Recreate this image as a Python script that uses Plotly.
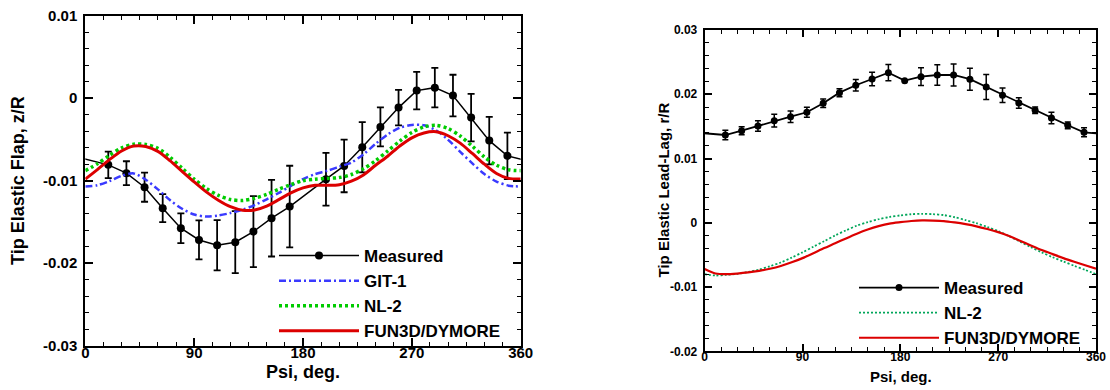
import plotly.graph_objects as go

# ---------------- data: left panel (Tip Elastic Flap, z/R) ----------------
psi_meas_flap = [19, 34, 49, 64, 79, 94, 109, 124, 139, 154, 169, 199, 214, 229, 244,
                 259, 274, 289, 304, 319, 334, 349]
flap_meas = [-0.00808, -0.00909, -0.01079, -0.01333, -0.01576, -0.01718, -0.01782,
             -0.01745, -0.01617, -0.01455, -0.01314, -0.00982, -0.00821, -0.00594,
             -0.00348, -0.00114, 0.00092, 0.00128, 0.00032, -0.00235, -0.00514, -0.00699]
flap_err = [0.00161, 0.00145, 0.00176, 0.00170, 0.00180, 0.00236, 0.00305, 0.00376,
            0.00430, 0.00464, 0.00495, 0.00319, 0.00319, 0.00305, 0.00236, 0.00216,
            0.00227, 0.00239, 0.00252, 0.00288, 0.00287, 0.00282]

psi_model = [0, 10, 20, 30, 40, 50, 60, 70, 80, 90, 100, 110, 120, 130, 140, 150, 160,
             170, 180, 190, 200, 210, 220, 230, 240, 250, 260, 270, 280, 290, 300, 310,
             320, 330, 340, 350, 360]
flap_git1 = [-0.01071, -0.01055, -0.01005, -0.00940, -0.00912, -0.00988, -0.01105,
             -0.01235, -0.01340, -0.01410, -0.01435, -0.01422, -0.01392, -0.01352,
             -0.01295, -0.01225, -0.01148, -0.01062, -0.00980, -0.00920, -0.00880,
             -0.00830, -0.00780, -0.00680, -0.00553, -0.00440, -0.00358, -0.00325,
             -0.00329, -0.00388, -0.00505, -0.00650, -0.00790, -0.00920, -0.01010,
             -0.01060, -0.01070]
flap_nl2 = [-0.00878, -0.00795, -0.00692, -0.00603, -0.00558, -0.00560, -0.00608,
            -0.00715, -0.00848, -0.00981, -0.01093, -0.01178, -0.01228, -0.01240,
            -0.01213, -0.01166, -0.01104, -0.01048, -0.01000, -0.00982, -0.00972,
            -0.00962, -0.00925, -0.00855, -0.00757, -0.00640, -0.00520, -0.00415,
            -0.00348, -0.00328, -0.00368, -0.00458, -0.00582, -0.00712, -0.00812,
            -0.00868, -0.00878]
flap_fun3d = [-0.00980, -0.00865, -0.00745, -0.00640, -0.00580, -0.00585, -0.00645,
              -0.00757, -0.00886, -0.01014, -0.01135, -0.01236, -0.01315, -0.01358,
              -0.01355, -0.01308, -0.01230, -0.01147, -0.01087, -0.01055, -0.01056,
              -0.01048, -0.01005, -0.00930, -0.00813, -0.00703, -0.00580, -0.00480,
              -0.00422, -0.00406, -0.00455, -0.00545, -0.00670, -0.00800, -0.00912,
              -0.00972, -0.00980]

# ---------------- data: right panel (Tip Elastic Lead-Lag, r/R) ----------------
psi_meas_lag = [19, 34, 49, 64, 79, 94, 109, 124, 139, 154, 169, 184, 199, 214, 229,
                244, 259, 274, 289, 304, 319, 334, 349]
lag_meas = [0.01366, 0.01433, 0.01506, 0.01589, 0.01651, 0.01720, 0.01860, 0.02025,
            0.02140, 0.02238, 0.02336, 0.02212, 0.02274, 0.02300, 0.02300, 0.02234,
            0.02114, 0.01984, 0.01864, 0.01751, 0.01631, 0.01517, 0.01408]
lag_err = [0.00075, 0.00062, 0.00080, 0.00100, 0.00090, 0.00078, 0.00065, 0.00062,
           0.00090, 0.00106, 0.00127, 0.00000, 0.00137, 0.00158, 0.00170, 0.00170,
           0.00195, 0.00112, 0.00080, 0.00052, 0.00088, 0.00052, 0.00070]
lag_nl2 = [-0.00800, -0.00820, -0.00810, -0.00795, -0.00765, -0.00728, -0.00676,
           -0.00618, -0.00542, -0.00460, -0.00372, -0.00286, -0.00197, -0.00118,
           -0.00045, 0.00010, 0.00055, 0.00090, 0.00115, 0.00133, 0.00140, 0.00134,
           0.00120, 0.00086, 0.00043, -0.00007, -0.00066, -0.00130, -0.00208,
           -0.00293, -0.00378, -0.00460, -0.00535, -0.00603, -0.00670, -0.00733,
           -0.00800]
lag_fun3d = [-0.00720, -0.00790, -0.00800, -0.00790, -0.00773, -0.00748, -0.00715,
             -0.00672, -0.00615, -0.00550, -0.00473, -0.00394, -0.00320, -0.00243,
             -0.00170, -0.00105, -0.00052, -0.00012, 0.00010, 0.00028, 0.00037,
             0.00035, 0.00027, 0.00005, -0.00022, -0.00055, -0.00097, -0.00145,
             -0.00205, -0.00278, -0.00352, -0.00424, -0.00488, -0.00550, -0.00607,
             -0.00662, -0.00715]

x_tickvals = [0, 90, 180, 270, 360]
x_ticktext = ["0", "90", "180", "270", "360"]
flap_tickvals = [-0.03, -0.02, -0.01, 0, 0.01]
flap_ticktext = ["-0.03", "-0.02", "-0.01", "0", "0.01"]
lag_tickvals = [-0.02, -0.01, 0, 0.01, 0.02, 0.03]
lag_ticktext = ["-0.02", "-0.01", "0", "0.01", "0.02", "0.03"]

W, H = 1110, 390
FONT = "Liberation Sans, Arial, Helvetica, sans-serif"
RED = "#dc0000"
BLUE = "#3a3aff"
GREEN = "#00cc00"
TEAL = "#00a65a"


def wrap(psi, vals):
    """Periodic continuation so the measured line runs to both borders."""
    return ([psi[-1] - 360] + psi + [psi[0] + 360], [vals[-1]] + vals + [vals[0]])


fig = go.Figure()

# left panel
fx, fy = wrap(psi_meas_flap, flap_meas)
_, fe = wrap(psi_meas_flap, flap_err)
fig.add_trace(go.Scatter(x=fx, y=fy, mode="lines+markers", name="Measured",
                         line=dict(color="black", width=1.5),
                         marker=dict(color="black", size=8),
                         error_y=dict(type="data", array=fe, color="black",
                                      thickness=1.8, width=3.5),
                         xaxis="x", yaxis="y", legend="legend"))
fig.add_trace(go.Scatter(x=psi_model, y=flap_git1, mode="lines", name="GIT-1",
                         line=dict(color=BLUE, width=2.5, dash="7px,3px,2px,3px",
                                   shape="spline", smoothing=0.8),
                         xaxis="x", yaxis="y", legend="legend"))
fig.add_trace(go.Scatter(x=psi_model, y=flap_nl2, mode="lines", name="NL-2",
                         line=dict(color=GREEN, width=3.5, dash="3px,3px",
                                   shape="spline", smoothing=0.8),
                         xaxis="x", yaxis="y", legend="legend"))
fig.add_trace(go.Scatter(x=psi_model, y=flap_fun3d, mode="lines", name="FUN3D/DYMORE",
                         line=dict(color=RED, width=3, shape="spline", smoothing=0.8),
                         xaxis="x", yaxis="y", legend="legend"))

# right panel
lx, ly = wrap(psi_meas_lag, lag_meas)
_, le = wrap(psi_meas_lag, lag_err)
fig.add_trace(go.Scatter(x=lx, y=ly, mode="lines+markers", name="Measured",
                         line=dict(color="black", width=1.8),
                         marker=dict(color="black", size=7),
                         error_y=dict(type="data", array=le, color="black",
                                      thickness=1.5, width=3),
                         xaxis="x2", yaxis="y2", legend="legend2"))
fig.add_trace(go.Scatter(x=psi_model, y=lag_nl2, mode="lines", name="NL-2",
                         line=dict(color=TEAL, width=1.8, dash="2px,2px",
                                   shape="spline", smoothing=0.8),
                         xaxis="x2", yaxis="y2", legend="legend2"))
fig.add_trace(go.Scatter(x=psi_model, y=lag_fun3d, mode="lines", name="FUN3D/DYMORE",
                         line=dict(color=RED, width=2.2, shape="spline", smoothing=0.8),
                         xaxis="x2", yaxis="y2", legend="legend2"))


def axis(domain, rng, tickvals, ticktext, minor_dtick, size, anchor, ticklen, standoff):
    return dict(domain=domain, range=rng, anchor=anchor, showgrid=False, zeroline=False,
                showline=True, linecolor="black", linewidth=2, mirror="ticks",
                ticks="inside", ticklen=ticklen, tickwidth=2, tickcolor="black",
                tickmode="array", tickvals=tickvals, ticktext=ticktext,
                tickfont=dict(family=FONT, size=size, color="black", weight="bold"),
                ticklabelstandoff=standoff, automargin=False,
                minor=dict(ticks="inside", ticklen=4, tickwidth=1, tickcolor="black",
                           tickmode="linear", tick0=0, dtick=minor_dtick, showgrid=False))


xl = [85.3 / W, 520.7 / W]
yl = [1 - 345.7 / H, 1 - 15.7 / H]
xr = [704.7 / W, 1096 / W]
yr = [1 - 351.3 / H, 1 - 30 / H]

legend_font = dict(family=FONT, size=17, color="black", weight="bold")

fig.update_layout(
    width=W, height=H,
    margin=dict(l=0, r=0, t=0, b=0, pad=0, autoexpand=False),
    paper_bgcolor="white", plot_bgcolor="white",
    font=dict(family=FONT, color="black"),
    xaxis=axis(xl, [0, 360], x_tickvals, x_ticktext, 15, 15, "y", 8, -8),
    yaxis=axis(yl, [-0.03, 0.01], flap_tickvals, flap_ticktext, 0.002, 15, "x", 8, 3),
    xaxis2=axis(xr, [0, 360], x_tickvals, x_ticktext, 15, 12, "y2", 7, -7),
    yaxis2=axis(yr, [-0.02, 0.03], lag_tickvals, lag_ticktext, 0.002, 12, "x2", 7, 3),
    legend=dict(x=274 / W, y=1 - 238 / H, xanchor="left", yanchor="top",
                bgcolor="rgba(0,0,0,0)", itemwidth=80, tracegroupgap=0,
                font=legend_font),
    legend2=dict(x=854 / W, y=1 - 270 / H, xanchor="left", yanchor="top",
                 bgcolor="rgba(0,0,0,0)", itemwidth=80, tracegroupgap=0,
                 font=legend_font),
    annotations=[
        dict(text="Tip Elastic Flap, z/R", x=18 / W, y=1 - 181 / H, xref="paper",
             yref="paper", textangle=-90, showarrow=False, xanchor="center",
             yanchor="middle", font=dict(family=FONT, size=18, weight="bold")),
        dict(text="Psi, deg.", x=303 / W, y=1 - 372 / H, xref="paper", yref="paper",
             showarrow=False, xanchor="center", yanchor="middle",
             font=dict(family=FONT, size=18, weight="bold")),
        dict(text="Tip Elastic Lead-Lag, r/R", x=663 / W, y=1 - 190.5 / H,
             xref="paper", yref="paper", textangle=-90, showarrow=False,
             xanchor="center", yanchor="middle",
             font=dict(family=FONT, size=15, weight="bold")),
        dict(text="Psi, deg.", x=900.5 / W, y=1 - 376 / H, xref="paper", yref="paper",
             showarrow=False, xanchor="center", yanchor="middle",
             font=dict(family=FONT, size=15, weight="bold")),
    ],
)

fig.write_html("out.html")
